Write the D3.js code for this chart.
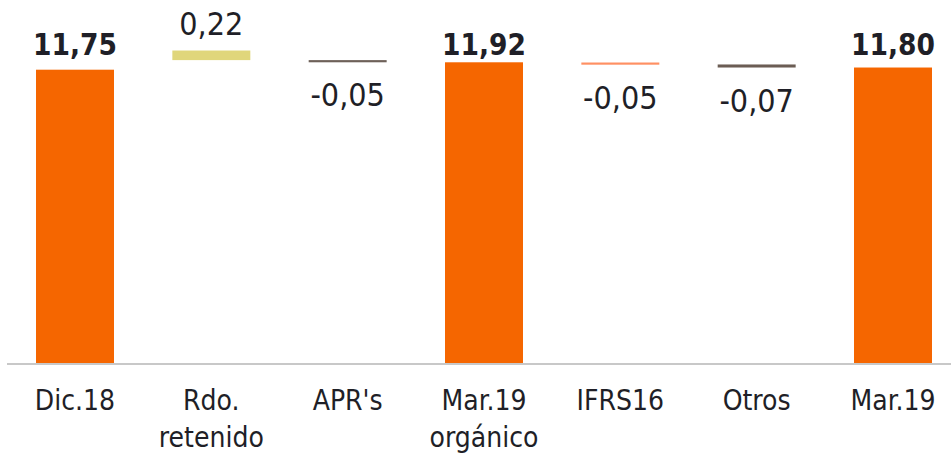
<!DOCTYPE html>
<html>
<head>
<meta charset="utf-8">
<script src="https://cdn.jsdelivr.net/npm/d3@7"></script>
<style>
  html, body { margin: 0; padding: 0; background: #fff; }
  svg { display: block; }
  text { font-family: "DejaVu Sans Condensed", "DejaVu Sans", sans-serif; font-stretch: condensed; fill: #1f1f27; }
</style>
</head>
<body>
<svg id="chart" width="951" height="454"></svg>
<script>
// ---- data ----
const categories = ["Dic.18", "Rdo. retenido", "APR's", "Mar.19 orgánico", "IFRS16", "Otros", "Mar.19"];
const categoryLines = [["Dic.18"], ["Rdo.", "retenido"], ["APR's"], ["Mar.19", "orgánico"], ["IFRS16"], ["Otros"], ["Mar.19"]];
const values = [11.75, 0.22, -0.05, 11.92, -0.05, -0.07, 11.80];
const kinds = ["total", "delta", "delta", "total", "delta", "delta", "total"];
// floating start of each step bar as drawn in the picture (null for totals)
const floatBase = [null, 11.97, 11.92, null, 11.865, 11.80, null];
const colors = ["#F56600", "#E0D67B", "#6E6159", "#F56600", "#FF9063", "#6B5D54", "#F56600"];
const yDomain = [5, 12.2];

// ---- chart ----
const svg = d3.select("#chart");
const x = d3.scalePoint().domain(categories).range([75, 893]);
const bw = x.step() * 0.572;
const y = d3.scaleLinear().domain(yDomain).range([364, 364 - (yDomain[1] - yDomain[0]) * 43.6]);

const loc = d3.formatLocale({decimal: ",", thousands: ".", grouping: [3], currency: ["", "€"], minus: "-"});
const fmt = loc.format(".2f");

const rows = categories.map((c, i) => {
  const v = values[i];
  let lo, hi;
  if (kinds[i] === "total") { lo = yDomain[0]; hi = v; }
  else { lo = floatBase[i]; hi = floatBase[i] + Math.abs(v); }
  return {c, v, kind: kinds[i], lo, hi, color: colors[i], lines: categoryLines[i]};
});

// baseline
svg.append("line")
  .attr("x1", 7).attr("x2", 951)
  .attr("y1", y(yDomain[0])).attr("y2", y(yDomain[0]))
  .attr("stroke", "#c8c8c8").attr("stroke-width", 2);

svg.selectAll("rect.bar").data(rows).join("rect")
  .attr("class", "bar")
  .attr("x", d => x(d.c) - bw / 2)
  .attr("width", bw)
  .attr("y", d => y(d.hi))
  .attr("height", d => y(d.lo) - y(d.hi) - (d.kind === "total" ? 1 : 0))
  .attr("fill", d => d.color);

const maxTotal = d3.max(rows.filter(d => d.kind === "total"), d => d.v);

svg.selectAll("text.val").data(rows).join("text")
  .attr("class", "val")
  .attr("text-anchor", "middle")
  .attr("x", d => x(d.c))
  .attr("y", d => d.kind === "total" ? y(maxTotal) - 7 : (d.v >= 0 ? y(d.hi) - 15.5 : y(d.lo) + 44))
  .style("font-size", d => d.kind === "total" ? "29.5px" : "32px")
  .style("font-weight", d => d.kind === "total" ? "bold" : "normal")
  .text(d => fmt(d.v));

const cat = svg.selectAll("text.cat").data(rows).join("text")
  .attr("class", "cat")
  .attr("text-anchor", "middle")
  .attr("x", d => x(d.c))
  .attr("y", 410)
  .style("font-size", "28px");
cat.selectAll("tspan").data(d => d.lines.map(l => ({l, xx: x(d.c)}))).join("tspan")
  .attr("x", t => t.xx)
  .attr("dy", (t, i) => i === 0 ? 0 : 37)
  .text(t => t.l);
</script>
</body>
</html>
